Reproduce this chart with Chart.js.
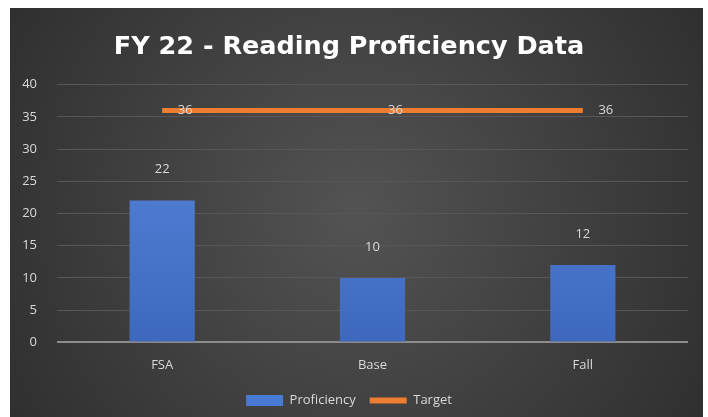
<!DOCTYPE html>
<html>
<head>
<meta charset="utf-8">
<script src="https://cdn.jsdelivr.net/npm/chart.js@4.4.1/dist/chart.umd.min.js"></script>
<style>
  html, body { margin: 0; padding: 0; background: #ffffff; }
  #wrap { position: absolute; left: 10px; top: 8px; width: 693px; height: 409px; }
</style>
</head>
<body>
<div id="wrap"><canvas id="chart"></canvas></div>
<script>
// chart data
const categories = ["FSA", "Base", "Fall"];
const proficiency = [22, 10, 12];
const target = [36, 36, 36];
const yTicks = [0, 5, 10, 15, 20, 25, 30, 35, 40];

// dark radial background, like the slide
const backgroundPlugin = {
    id: "bg",
    beforeDraw(chart) {
        const ctx = chart.ctx;
        const w = chart.width, h = chart.height;
        const g = ctx.createRadialGradient(w / 2, h / 2, 0, w / 2, h / 2, w * 0.62);
        g.addColorStop(0, "#535353");
        g.addColorStop(1, "#2d2d2d");
        ctx.save();
        ctx.fillStyle = g;
        ctx.fillRect(0, 0, w, h);
        ctx.restore();
    }
};

// value labels: above the bars, just right of the line points
const labelPlugin = {
    id: "labels",
    afterDatasetsDraw(chart) {
        const ctx = chart.ctx;
        ctx.save();
        ctx.font = "13px 'Open Sans', sans-serif";
        ctx.fillStyle = "#d9d9d9";
        ctx.textAlign = "center";
        ctx.textBaseline = "middle";
        chart.getDatasetMeta(1).data.forEach((bar, i) => {
            ctx.fillText(proficiency[i], bar.x, bar.y - 31);
        });
        chart.getDatasetMeta(0).data.forEach((pt, i) => {
            ctx.fillText(target[i], pt.x + 23, pt.y);
        });
        ctx.restore();
    }
};

const ctx = document.getElementById("chart").getContext("2d");

new Chart(ctx, {
    data: {
        labels: categories,
        datasets: [
            {
                type: "line",
                label: "Target",
                data: target,
                borderColor: "#ed7d31",
                backgroundColor: "#ed7d31",
                borderWidth: 5,
                pointRadius: 0,
                order: 0
            },
            {
                type: "bar",
                label: "Proficiency",
                data: proficiency,
                backgroundColor: function (c) {
                    const area = c.chart.chartArea;
                    if (!area) return "#4472c4";
                    const g = c.chart.ctx.createLinearGradient(0, area.top, 0, area.bottom);
                    g.addColorStop(0, "#5b8ae0");
                    g.addColorStop(1, "#3d68bd");
                    return g;
                },
                categoryPercentage: 1,
                barPercentage: 0.31,
                order: 1
            }
        ]
    },
    options: {
        responsive: true,
        maintainAspectRatio: false,
        animation: false,
        layout: { padding: { left: 0, right: 15, top: 0, bottom: 0 } },
        plugins: {
            title: {
                display: true,
                text: "FY 22 - Reading Proficiency Data",
                color: "#ffffff",
                font: { family: "'DejaVu Sans'", size: 25.5, weight: "bold" },
                padding: { top: 24, bottom: 22 }
            },
            legend: {
                position: "bottom",
                labels: {
                    color: "#d9d9d9",
                    font: { family: "'Open Sans', sans-serif", size: 13 },
                    usePointStyle: true,
                    pointStyleWidth: 37,
                    boxHeight: 11,
                    padding: 14,
                    generateLabels() {
                        return [
                            { text: "Proficiency", fillStyle: "#4a7bd4", strokeStyle: "#4a7bd4", lineWidth: 0, pointStyle: "rect", fontColor: "#d9d9d9", datasetIndex: 1 },
                            { text: "Target", fillStyle: "#ed7d31", strokeStyle: "#ed7d31", lineWidth: 6, pointStyle: "line", fontColor: "#d9d9d9", datasetIndex: 0 }
                        ];
                    }
                }
            },
            tooltip: { enabled: false }
        },
        scales: {
            x: {
                grid: { display: false },
                border: { display: false },
                ticks: { color: "#d9d9d9", font: { family: "'Open Sans', sans-serif", size: 13 }, padding: 7 }
            },
            y: {
                min: 0,
                max: 40,
                afterBuildTicks(axis) {
                    axis.ticks = yTicks.map(v => ({ value: v }));
                },
                afterFit(axis) {
                    axis.width = 47;
                },
                grid: {
                    color: c => c.tick.value === 0 ? "#8c8c8c" : "#575757",
                    lineWidth: c => c.tick.value === 0 ? 2 : 1,
                    drawTicks: false
                },
                border: { display: false },
                ticks: { color: "#d9d9d9", font: { family: "'Open Sans', sans-serif", size: 13 }, padding: 20 }
            }
        }
    },
    plugins: [backgroundPlugin, labelPlugin]
});
</script>
</body>
</html>
